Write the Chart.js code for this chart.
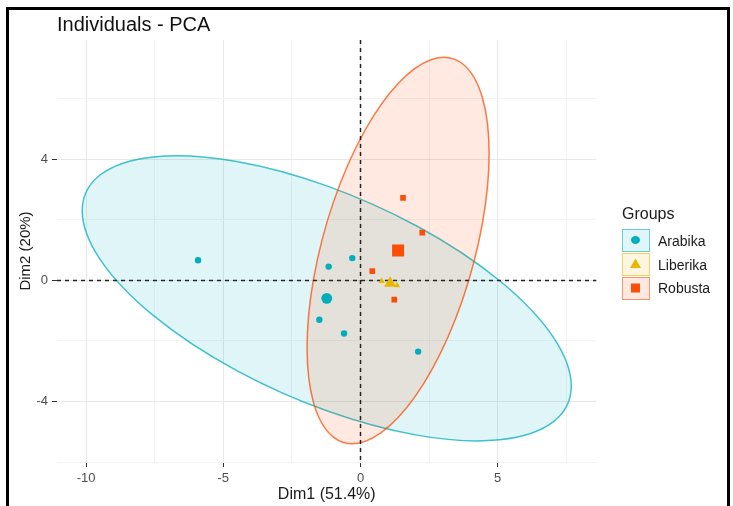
<!DOCTYPE html>
<html>
<head>
<meta charset="utf-8">
<script src="https://cdn.jsdelivr.net/npm/chart.js@4.4.1/dist/chart.umd.min.js"></script>
<style>
  html, body { margin: 0; padding: 0; background: #fff; overflow: hidden; }
  #wrap { position: relative; width: 733px; height: 506px; }
  #frame { position: absolute; left: 6px; top: 7px; width: 718px; height: 520px;
           border: 3px solid #000; border-bottom: none; pointer-events: none; }
  #legend { position: absolute; left: 622px; top: 204px; font-family: "Liberation Sans", Arial, sans-serif; color: #1a1a1a; }
  #legend .head { font-size: 16px; height: 22px; line-height: 20px; margin-bottom: 3px; }
  #legend .row { display: flex; align-items: center; height: 23.7px; }
  #legend .key { width: 28px; height: 23px; box-sizing: border-box; border: 1.5px solid; }
  #legend .key svg { display: block; }
  #legend .lab { font-size: 14px; margin-left: 8px; }
</style>
</head>
<body>
<div id="wrap">
  <canvas id="pca" width="733" height="506"></canvas>
  <div id="legend"></div>
  <div id="frame"></div>
</div>
<script>
const groups = ['Arabika', 'Liberika', 'Robusta'];
const groupColors = ['#00AFBB', '#E7B800', '#FC4E07'];
const groupShapes = ['circle', 'triangle', 'rect'];

// individuals (Dim1, Dim2)
const arabikaX = [-5.92, -1.16, -0.30, -1.50, -0.60, 2.10];
const arabikaY = [0.67, 0.46, 0.74, -1.30, -1.75, -2.35];
const liberikaX = [0.77, 1.33];
const liberikaY = [-0.02, -0.16];
const robustaX = [1.55, 2.25, 0.43, 1.23];
const robustaY = [2.73, 1.58, 0.31, -0.63];

// group centres, same order as groups
const centroidX = [-1.23, 1.08, 1.37];
const centroidY = [-0.59, -0.09, 0.99];

// confidence ellipses (spread along Dim1, covariance, spread along Dim2); Liberika has none
const ellipseVarX = [79.4, null, 11.0];
const ellipseCov = [-25.8, null, 10.65];
const ellipseVarY = [22.2, null, 40.8];

const xTicks = [-10, -5, 0, 5];
const xMinor = [-7.5, -2.5, 2.5, 7.5];
const yTicks = [-4, 0, 4];
const yMinor = [-6, -2, 2, 6];

const FONT = '"Liberation Sans", Arial, sans-serif';

function pts(xs, ys) { return xs.map((v, i) => ({ x: v, y: ys[i] })); }
function fade(hex, a) {
  const n = parseInt(hex.slice(1), 16);
  return `rgba(${n >> 16}, ${(n >> 8) & 255}, ${n & 255}, ${a})`;
}

const ellipsePlugin = {
  id: 'ellipses',
  beforeDatasetsDraw(chart) {
    const { ctx, chartArea, scales: { x, y } } = chart;
    const kx = x.getPixelForValue(1) - x.getPixelForValue(0);
    const ky = y.getPixelForValue(1) - y.getPixelForValue(0);
    ctx.save();
    ctx.beginPath();
    ctx.rect(chartArea.left, chartArea.top, chartArea.width, chartArea.height);
    ctx.clip();
    groups.forEach((g, i) => {
      if (ellipseVarX[i] == null) return;
      const l11 = Math.sqrt(ellipseVarX[i]);
      const l21 = ellipseCov[i] / l11;
      const l22 = Math.sqrt(ellipseVarY[i] - l21 * l21);
      ctx.save();
      ctx.transform(kx * l11, ky * l21, 0, ky * l22,
        x.getPixelForValue(centroidX[i]), y.getPixelForValue(centroidY[i]));
      ctx.beginPath();
      ctx.arc(0, 0, 1, 0, Math.PI * 2);
      ctx.restore();
      ctx.fillStyle = fade(groupColors[i], 0.12);
      ctx.fill();
      ctx.strokeStyle = fade(groupColors[i], 0.75);
      ctx.lineWidth = 1.5;
      ctx.stroke();
    });
    // dashed lines through the origin
    const px0 = x.getPixelForValue(0), py0 = y.getPixelForValue(0);
    ctx.setLineDash([4, 4]);
    ctx.strokeStyle = '#222';
    ctx.lineWidth = 1.5;
    ctx.beginPath();
    ctx.moveTo(px0, chartArea.top); ctx.lineTo(px0, chartArea.bottom);
    ctx.moveTo(chartArea.left, py0); ctx.lineTo(chartArea.right, py0);
    ctx.stroke();
    ctx.restore();
  }
};

const small = [3.2, 3.6, 4];
const big = [5.4, 7, 8.5];
const groupData = [pts(arabikaX, arabikaY), pts(liberikaX, liberikaY), pts(robustaX, robustaY)];

const datasets = [];
groups.forEach((g, i) => {
  datasets.push({
    label: g, data: groupData[i], pointStyle: groupShapes[i], pointRadius: small[i],
    backgroundColor: groupColors[i], borderColor: groupColors[i], borderWidth: 0
  });
});
groups.forEach((g, i) => {
  datasets.push({
    label: g + ' centre', data: [{ x: centroidX[i], y: centroidY[i] }], pointStyle: groupShapes[i],
    pointRadius: big[i], backgroundColor: groupColors[i], borderColor: groupColors[i], borderWidth: 0
  });
});

function axis(major, minor, min, max) {
  return {
    type: 'linear', min: min, max: max,
    afterBuildTicks: s => { s.ticks = major.concat(minor).sort((a, b) => a - b).map(v => ({ value: v })); },
    ticks: {
      callback: v => major.includes(v) ? String(v) : '',
      color: '#4d4d4d', font: { family: FONT, size: 13 }, padding: 4,
      maxRotation: 0, autoSkip: false
    },
    grid: {
      color: c => major.includes(c.tick.value) ? '#e8e8e8' : '#f3f3f3',
      tickColor: c => major.includes(c.tick.value) ? '#333' : 'rgba(0,0,0,0)',
      tickLength: 5, lineWidth: 1
    },
    border: { display: false }
  };
}

const xAxis = axis(xTicks, xMinor, -11.06, 8.6);
xAxis.title = { display: true, text: 'Dim1 (51.4%)', color: '#1a1a1a', font: { family: FONT, size: 16 }, padding: { top: 0, bottom: 2 } };
xAxis.afterFit = s => { s.height = 44; };
const yAxis = axis(yTicks, yMinor, -6.0, 7.95);
yAxis.title = { display: true, text: 'Dim2 (20%)', color: '#1a1a1a', font: { family: FONT, size: 15 }, padding: { top: 17, bottom: 0 } };
yAxis.afterFit = s => { s.width = 57; };

new Chart(document.getElementById('pca'), {
  type: 'scatter',
  data: { datasets: datasets },
  options: {
    responsive: false,
    animation: false,
    layout: { padding: { left: 0, right: 136.5, top: 0, bottom: 0 } },
    scales: { x: xAxis, y: yAxis },
    plugins: {
      legend: { display: false },
      tooltip: { enabled: false },
      title: {
        display: true, text: 'Individuals - PCA', align: 'start', fullSize: false,
        color: '#111', font: { family: FONT, size: 20, weight: 'normal' },
        padding: { top: 13, bottom: 3 }
      }
    }
  },
  plugins: [ellipsePlugin]
});

// legend
const legend = document.getElementById('legend');
let html = '<div class="head">Groups</div>';
groups.forEach((g, i) => {
  const c = groupColors[i];
  let sym;
  if (groupShapes[i] === 'circle') sym = `<ellipse cx="12.5" cy="10" rx="4.5" ry="4" fill="${c}"/>`;
  else if (groupShapes[i] === 'triangle') sym = `<polygon points="12.5,4.5 18,14 7,14" fill="${c}"/>`;
  else sym = `<rect x="8" y="5.5" width="9" height="9" fill="${c}"/>`;
  html += `<div class="row"><div class="key" style="border-color:${fade(c, 0.55)};background:${fade(c, 0.12)}">` +
    `<svg width="25" height="20">${sym}</svg></div><div class="lab">${g}</div></div>`;
});
legend.innerHTML = html;
</script>
</body>
</html>
